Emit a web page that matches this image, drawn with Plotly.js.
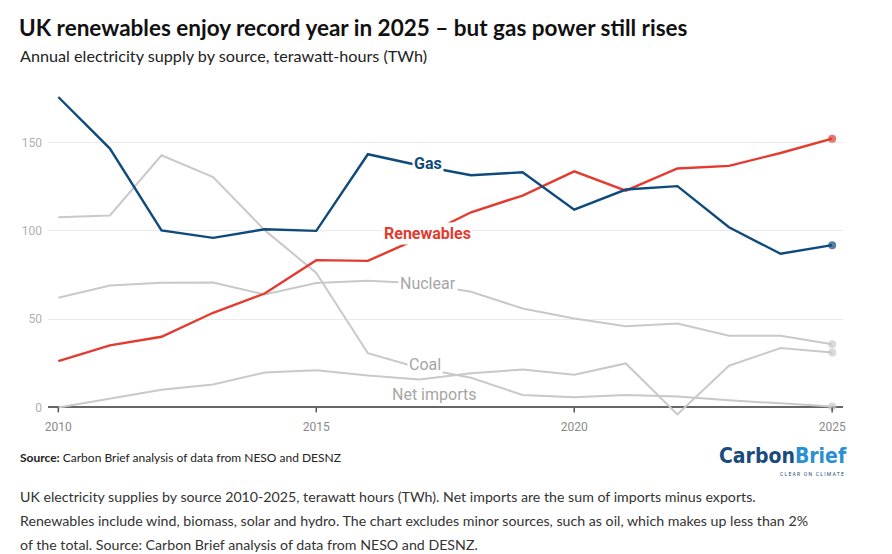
<!DOCTYPE html>
<html>
<head>
<meta charset="utf-8">
<script src="https://cdn.plot.ly/plotly-3.0.1.min.js"></script>
<style>
  html, body { margin: 0; padding: 0; background: #fff; }
  #chart { width: 892px; height: 554px; }
</style>
</head>
<body>
<div id="chart"></div>
<script>
// ---- Data (TWh) ----
const years = [2010, 2011, 2012, 2013, 2014, 2015, 2016, 2017, 2018, 2019, 2020, 2021, 2022, 2023, 2024, 2025];
const gas        = [175.8, 146.6, 100.2, 96.0, 100.9, 100.0, 143.4, 137.0, 131.5, 133.2, 112.0, 123.4, 125.3, 102.0, 87.0, 91.9];
const renewables = [26.2, 35.1, 40.0, 53.6, 64.5, 83.4, 83.0, 96.0, 110.5, 120.0, 133.7, 122.8, 135.3, 136.8, 144.1, 152.2];
const nuclear    = [62.1, 69.0, 70.6, 70.7, 64.0, 70.4, 71.7, 70.3, 65.5, 56.0, 50.4, 46.0, 47.5, 40.6, 40.6, 35.8];
const coal       = [107.7, 108.7, 142.8, 130.5, 100.4, 76.2, 30.7, 22.3, 16.8, 7.0, 5.8, 7.0, 6.2, 4.0, 2.3, 0.5];
const netImports = [0.0, 4.9, 10.0, 13.0, 19.8, 21.1, 18.1, 15.8, 19.3, 21.5, 18.5, 24.9, -4.0, 23.6, 33.6, 31.1];
const seriesNames = ["Gas", "Renewables", "Nuclear", "Coal", "Net imports"];
const xTickVals = [2010, 2015, 2020, 2025];
const yTickVals = [0, 50, 100, 150];

const C_GAS = "#0f4a7c";
const C_REN = "#e33b30";
const C_GREY = "#c9c9c9";

function endDots(arr, size) {
  return arr.map((v, i) => (i === arr.length - 1 ? size : 0));
}
function line(name, y, color, width, dot) {
  return {
    type: "scatter", mode: "lines+markers", name: name,
    x: years, y: y,
    line: { color: color, width: width },
    marker: { color: color, size: endDots(y, dot), line: { width: 0 } },
    hoverinfo: "x+y+name", cliponaxis: false
  };
}

const traces = [
  line(seriesNames[4], netImports, C_GREY, 2, 8),
  line(seriesNames[3], coal, C_GREY, 2, 8),
  line(seriesNames[2], nuclear, C_GREY, 2, 8),
  line(seriesNames[1], renewables, C_REN, 2.4, 8),
  line(seriesNames[0], gas, C_GAS, 2.4, 8)
];

const lab = (text, x, y, color, bold) => ({
  x: x, y: y, xref: "x", yref: "y", showarrow: false,
  text: bold ? "<b>" + text + "</b>" : text,
  font: { family: "Roboto, sans-serif", size: 16, color: color },
  bgcolor: "#ffffff", borderpad: 1, xanchor: "center", yanchor: "middle"
});
const X0 = -30 / 795;
const para = (text, yPix) => ({
  xref: "paper", yref: "paper", x: X0, y: 1 - (yPix - 79) / 339.4,
  xanchor: "left", yanchor: "middle", showarrow: false, align: "left",
  text: text, font: { family: "Lato, sans-serif", size: 14.2, color: "#333333" }
});

const annotations = [
  lab(seriesNames[0], 2017.16, 137.9, C_GAS, true),
  lab(seriesNames[1], 2017.16, 98.3, C_REN, true),
  lab(seriesNames[2], 2017.17, 70.2, "#a6a6a6", false),
  lab(seriesNames[3], 2017.1, 24.3, "#a6a6a6", false),
  lab(seriesNames[4], 2017.28, 7.4, "#a6a6a6", false),
  // subtitle
  {
    xref: "paper", yref: "paper", x: X0, y: 1 + (79 - 55) / 339.4,
    xanchor: "left", yanchor: "middle", showarrow: false,
    text: "Annual electricity supply by source, terawatt-hours (TWh)",
    font: { family: "Lato, sans-serif", size: 16.2, color: "#222222" }
  },
  // source
  {
    xref: "paper", yref: "paper", x: X0, y: 1 - (458 - 79) / 339.4,
    xanchor: "left", yanchor: "middle", showarrow: false,
    text: "<b>Source:</b> Carbon Brief analysis of data from NESO and DESNZ",
    font: { family: "Lato, sans-serif", size: 12, color: "#222222" }
  },
  // logo
  {
    xref: "paper", yref: "paper", x: (849 - 48) / 795, y: 1 - (456 - 79) / 339.4,
    xanchor: "right", yanchor: "middle", showarrow: false,
    text: "<b><span style='color:#1a4b7d'>Carbon</span><span style='color:#2a8fd3'>Brief</span></b>",
    font: { family: "'Liberation Sans Narrow', 'DejaVu Sans Condensed', Roboto, sans-serif", size: 21, color: "#1a4b7d" }
  },
  {
    xref: "paper", yref: "paper", x: (846 - 48) / 795, y: 1 - (474 - 79) / 339.4,
    xanchor: "right", yanchor: "middle", showarrow: false,
    text: "C L E A R   O N   C L I M A T E",
    font: { family: "Roboto, sans-serif", size: 5, color: "#1a4b7d" }
  },
  para("UK electricity supplies by source 2010-2025, terawatt hours (TWh). Net imports are the sum of imports minus exports.", 497),
  para("Renewables include wind, biomass, solar and hydro. The chart excludes minor sources, such as oil, which makes up less than 2%", 521),
  para("of the total. Source: Carbon Brief analysis of data from NESO and DESNZ.", 545)
];

const shapes = xTickVals.map(v => ({
  type: "line", xref: "x", yref: "y", x0: v, x1: v,
  ysizemode: "pixel", yanchor: 0, y0: 0, y1: -5,
  line: { color: "#555555", width: 1.5 }, layer: "above"
}));

const layout = {
  width: 892, height: 554,
  margin: { l: 48, r: 49, t: 79, b: 135.6 },
  paper_bgcolor: "#ffffff", plot_bgcolor: "#ffffff",
  showlegend: false,
  title: {
    text: "<b>UK renewables enjoy record year in 2025 – but gas power still rises</b>",
    xref: "container", yref: "container", x: 19 / 892, xanchor: "left",
    y: 1 - 28 / 554, yanchor: "middle",
    font: { family: "Lato, sans-serif", size: 22.5, color: "#111111" }
  },
  xaxis: {
    range: [2009.8, 2025.21], tickvals: xTickVals, ticktext: xTickVals.map(String),
    showgrid: false, zeroline: false, showline: false, ticks: "",
    tickfont: { family: "Roboto, sans-serif", size: 12, color: "#8a8a8a" },
    fixedrange: true
  },
  yaxis: {
    range: [-6, 186], tickvals: yTickVals, ticktext: yTickVals.map(String),
    showgrid: true, gridcolor: "#ebebeb", gridwidth: 1,
    zeroline: true, zerolinecolor: "#666666", zerolinewidth: 2,
    showline: false, ticks: "", ticklabelstandoff: 5,
    tickfont: { family: "Roboto, sans-serif", size: 12, color: "#b0b0b0" },
    fixedrange: true
  },
  annotations: annotations,
  shapes: shapes
};

Plotly.newPlot("chart", traces, layout, { displayModeBar: false, staticPlot: true });
</script>
</body>
</html>
